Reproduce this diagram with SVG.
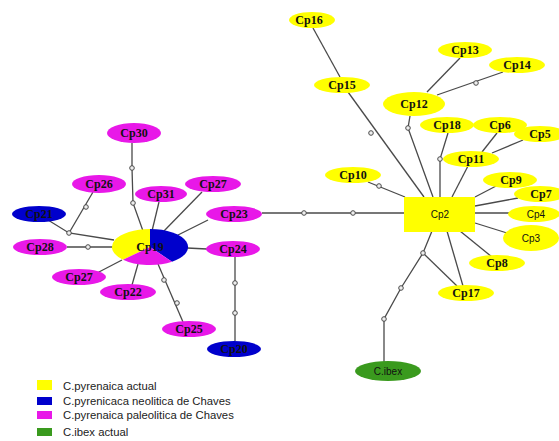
<svg xmlns="http://www.w3.org/2000/svg" width="559" height="441" viewBox="0 0 559 441">
<style>
.e{stroke:#4a4a4a;stroke-width:1.3;fill:none}
.d{fill:#eee;stroke:#4a4a4a;stroke-width:1}
.y{fill:#ffff00}
.m{fill:#e818e8}
.b{fill:#0000cc}
.g{fill:#3a9a1e}
.t{font-family:"Liberation Serif",serif;font-weight:bold;font-size:12px;fill:#111;text-anchor:middle}
.s{font-family:"Liberation Sans",sans-serif;font-size:10px;fill:#111;text-anchor:middle}
.l{font-family:"Liberation Sans",sans-serif;font-size:11.3px;fill:#222}
</style>
<rect width="559" height="441" fill="#fff"/>
<g id="connectors">
<polyline class="e" points="132,143 132,168 133,203 143,231"/>
<polyline class="e" points="93,192 69,233"/>
<polyline class="e" points="48,220 69,233 114,240"/>
<line class="e" x1="67" y1="247" x2="113" y2="247"/>
<line class="e" x1="159" y1="202" x2="152" y2="231"/>
<line class="e" x1="202" y1="192" x2="163" y2="232"/>
<line class="e" x1="208" y1="220" x2="178" y2="235"/>
<line class="e" x1="187" y1="248" x2="207" y2="249"/>
<line class="e" x1="97" y1="273" x2="122" y2="260"/>
<line class="e" x1="132" y1="285" x2="138" y2="264"/>
<line class="e" x1="183" y1="322" x2="158" y2="264"/>
<line class="e" x1="235" y1="257" x2="235" y2="341"/>
<line class="e" x1="262" y1="213" x2="405" y2="213"/>
<line class="e" x1="313" y1="28" x2="340" y2="77"/>
<line class="e" x1="348" y1="92" x2="424" y2="197"/>
<polyline class="e" points="410,116 408,128 433,197"/>
<line class="e" x1="427" y1="92" x2="460" y2="58"/>
<line class="e" x1="437" y1="95" x2="503" y2="72"/>
<polyline class="e" points="448,133 440,159 440,197"/>
<line class="e" x1="468" y1="166" x2="452" y2="197"/>
<line class="e" x1="497" y1="133" x2="482" y2="152"/>
<line class="e" x1="523" y1="140" x2="492" y2="153"/>
<line class="e" x1="368" y1="182" x2="405" y2="197"/>
<line class="e" x1="498" y1="185" x2="475" y2="197"/>
<line class="e" x1="518" y1="198" x2="475" y2="206"/>
<line class="e" x1="475" y1="213" x2="510" y2="213"/>
<line class="e" x1="475" y1="223" x2="507" y2="233"/>
<line class="e" x1="460" y1="231" x2="492" y2="257"/>
<line class="e" x1="447" y1="231" x2="463" y2="286"/>
<line class="e" x1="457" y1="286" x2="423" y2="253"/>
<polyline class="e" points="432,231 423,253 401,288 384,319 384,362"/>
<circle class="d" cx="132" cy="168" r="2.3"/>
<circle class="d" cx="133" cy="203" r="2.3"/>
<circle class="d" cx="86" cy="207" r="2.3"/>
<circle class="d" cx="69" cy="233" r="2.3"/>
<circle class="d" cx="88" cy="247" r="2.3"/>
<circle class="d" cx="164" cy="280" r="2.3"/>
<circle class="d" cx="177" cy="303" r="2.3"/>
<circle class="d" cx="235" cy="283" r="2.3"/>
<circle class="d" cx="235" cy="313" r="2.3"/>
<circle class="d" cx="304" cy="213" r="2.3"/>
<circle class="d" cx="353" cy="213" r="2.3"/>
<circle class="d" cx="371" cy="133" r="2.3"/>
<circle class="d" cx="408" cy="128" r="2.3"/>
<circle class="d" cx="476" cy="83" r="2.3"/>
<circle class="d" cx="440" cy="159" r="2.3"/>
<circle class="d" cx="379" cy="186" r="2.3"/>
<circle class="d" cx="423" cy="253" r="2.3"/>
<circle class="d" cx="401" cy="288" r="2.3"/>
<circle class="d" cx="384" cy="319" r="2.3"/>
</g>
<g id="Cp19">
<path class="y" d="M150,247 L150,229 A38,18 0 0 0 123,259.7 Z"/>
<path class="b" d="M150,247 L150,229 A38,18 0 0 1 172,261.7 Z"/>
<path class="m" d="M150,247 L172,261.7 A38,18 0 0 1 123,259.7 Z"/>
<text class="t" x="150" y="251">Cp19</text>
</g>
<g id="Cp30"><ellipse class="m" cx="134" cy="133" rx="27" ry="10"/><text class="t" x="134" y="137">Cp30</text></g>
<g id="Cp26"><ellipse class="m" cx="99" cy="184" rx="27" ry="9"/><text class="t" x="99" y="188">Cp26</text></g>
<g id="Cp31"><ellipse class="m" cx="161" cy="194" rx="26" ry="8"/><text class="t" x="161" y="198">Cp31</text></g>
<g id="Cp27a"><ellipse class="m" cx="213" cy="184" rx="28" ry="8"/><text class="t" x="213" y="188">Cp27</text></g>
<g id="Cp23"><ellipse class="m" cx="234" cy="214" rx="28" ry="8"/><text class="t" x="234" y="218">Cp23</text></g>
<g id="Cp21"><ellipse class="b" cx="39" cy="214" rx="27" ry="8"/><text class="t" x="39" y="218">Cp21</text></g>
<g id="Cp28"><ellipse class="m" cx="40" cy="247" rx="27" ry="8"/><text class="t" x="40" y="251">Cp28</text></g>
<g id="Cp24"><ellipse class="m" cx="233" cy="249" rx="27" ry="8"/><text class="t" x="233" y="253">Cp24</text></g>
<g id="Cp27b"><ellipse class="m" cx="79" cy="277" rx="27" ry="8"/><text class="t" x="79" y="281">Cp27</text></g>
<g id="Cp22"><ellipse class="m" cx="128" cy="292" rx="28" ry="8"/><text class="t" x="128" y="296">Cp22</text></g>
<g id="Cp25"><ellipse class="m" cx="189" cy="329" rx="27" ry="8"/><text class="t" x="189" y="333">Cp25</text></g>
<g id="Cp20"><ellipse class="b" cx="234" cy="349" rx="27" ry="8"/><text class="t" x="234" y="353">Cp20</text></g>
<g id="Cp2"><rect class="y" x="404" y="197" width="71" height="35"/><text class="s" x="440" y="218">Cp2</text></g>
<g id="Cp16"><ellipse class="y" cx="312" cy="20" rx="23" ry="8"/><text class="t" x="309" y="24">Cp16</text></g>
<g id="Cp13"><ellipse class="y" cx="465" cy="50" rx="27" ry="8"/><text class="t" x="465" y="54">Cp13</text></g>
<g id="Cp14"><ellipse class="y" cx="517" cy="65" rx="28" ry="8"/><text class="t" x="517" y="69">Cp14</text></g>
<g id="Cp15"><ellipse class="y" cx="342" cy="85" rx="28" ry="8"/><text class="t" x="342" y="89">Cp15</text></g>
<g id="Cp12"><ellipse class="y" cx="414" cy="104" rx="31" ry="12"/><text class="t" x="414" y="108">Cp12</text></g>
<g id="Cp18"><ellipse class="y" cx="447" cy="125" rx="27" ry="8"/><text class="t" x="447" y="129">Cp18</text></g>
<g id="Cp6"><ellipse class="y" cx="500" cy="125" rx="27" ry="8"/><text class="t" x="500" y="129">Cp6</text></g>
<g id="Cp5"><ellipse class="y" cx="540" cy="134" rx="26" ry="8"/><text class="t" x="540" y="138">Cp5</text></g>
<g id="Cp11"><ellipse class="y" cx="471" cy="159" rx="28" ry="8"/><text class="t" x="471" y="163">Cp11</text></g>
<g id="Cp10"><ellipse class="y" cx="353" cy="175" rx="28" ry="8"/><text class="t" x="353" y="179">Cp10</text></g>
<g id="Cp9"><ellipse class="y" cx="510" cy="180" rx="27" ry="8"/><text class="t" x="511" y="184">Cp9</text></g>
<g id="Cp7"><ellipse class="y" cx="540" cy="194" rx="26" ry="8"/><text class="t" x="541" y="198">Cp7</text></g>
<g id="Cp4"><ellipse class="y" cx="534" cy="214" rx="26" ry="8"/><text class="s" x="536" y="218">Cp4</text></g>
<g id="Cp3"><ellipse class="y" cx="531" cy="238" rx="28" ry="13"/><text class="s" x="531" y="242">Cp3</text></g>
<g id="Cp8"><ellipse class="y" cx="497" cy="263" rx="28" ry="8"/><text class="t" x="497" y="267">Cp8</text></g>
<g id="Cp17"><ellipse class="y" cx="466" cy="293" rx="28" ry="8"/><text class="t" x="466" y="297">Cp17</text></g>
<g id="Cibex"><ellipse class="g" cx="388" cy="371" rx="33" ry="10"/><text class="s" x="388" y="375" fill="#222">C.ibex</text></g>
<g id="legend">
<rect class="y" x="37" y="380" width="15" height="10"/>
<rect class="b" x="37" y="397" width="15" height="8"/>
<rect class="m" x="37" y="411" width="15" height="8"/>
<rect class="g" x="37" y="428" width="15" height="8"/>
<text class="l" x="63" y="390">C.pyrenaica actual</text>
<text class="l" x="63" y="405">C.pyrenicaca neolitica de Chaves</text>
<text class="l" x="63" y="419">C.pyrenaica paleolitica de Chaves</text>
<text class="l" x="63" y="436">C.ibex actual</text>
</g>
</svg>
